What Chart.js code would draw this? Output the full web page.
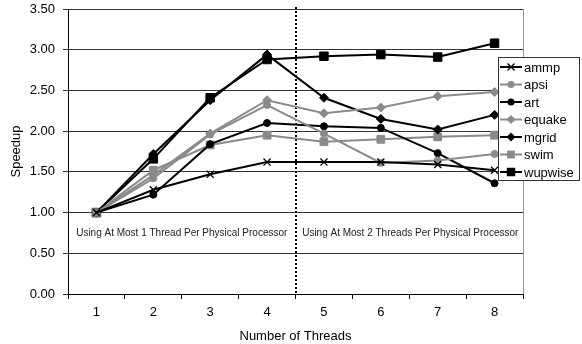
<!DOCTYPE html>
<html>
<head>
<meta charset="utf-8">
<script src="https://cdn.jsdelivr.net/npm/chart.js@4/dist/chart.umd.min.js"></script>
<style>
  html, body { margin: 0; padding: 0; background: #fff; }
  #wrap { width: 582px; height: 344px; }
</style>
</head>
<body>
<div id="wrap"><canvas id="chart" width="582" height="344"></canvas></div>
<script>
// 데이터
const threads = ['1', '2', '3', '4', '5', '6', '7', '8'];
const ammp    = [1.00, 1.28, 1.47, 1.62, 1.62, 1.62, 1.59, 1.52];
const apsi    = [1.00, 1.42, 1.96, 2.32, 1.97, 1.61, 1.64, 1.72];
const art     = [1.00, 1.22, 1.84, 2.10, 2.06, 2.04, 1.73, 1.36];
const equake  = [1.00, 1.46, 1.97, 2.38, 2.22, 2.29, 2.43, 2.48];
const mgrid   = [1.00, 1.72, 2.38, 2.94, 2.41, 2.15, 2.02, 2.20];
const swim    = [1.00, 1.52, 1.83, 1.95, 1.87, 1.90, 1.93, 1.95];
const wupwise = [1.00, 1.66, 2.41, 2.88, 2.92, 2.94, 2.91, 3.08];
const yTicks  = [0, 0.5, 1, 1.5, 2, 2.5, 3, 3.5];
const note1 = 'Using At Most 1 Thread Per Physical Processor';
const note2 = 'Using At Most 2 Threads Per Physical Processor';

const BLACK = '#000000';
const GRAY = '#8a8a8a';
const FONT = 'Arial, "Liberation Sans", sans-serif';

function series(label, data, color, style, radius) {
    return {
        label: label,
        data: data,
        borderColor: color,
        backgroundColor: color,
        borderWidth: 2,
        pointStyle: style,
        pointRadius: radius,
        pointHoverRadius: radius,
        pointBackgroundColor: color,
        pointBorderColor: color,
        pointBorderWidth: style === 'crossRot' ? 1.3 : 1,
        tension: 0,
        fill: false
    };
}

const datasets = [
    series('ammp', ammp, BLACK, 'crossRot', 5),
    series('apsi', apsi, GRAY, 'circle', 3.5),
    series('art', art, BLACK, 'circle', 3.5),
    series('equake', equake, GRAY, 'rectRot', 4.5),
    series('mgrid', mgrid, BLACK, 'rectRot', 4.5),
    series('swim', swim, GRAY, 'rect', 5.5),
    series('wupwise', wupwise, BLACK, 'rect', 6)
];

// 범례용 마커 그리기
function drawMarker(ctx, style, x, y, r, color) {
    ctx.save();
    ctx.fillStyle = color;
    ctx.strokeStyle = color;
    ctx.lineWidth = 1.3;
    ctx.beginPath();
    if (style === 'circle') {
        ctx.arc(x, y, r, 0, Math.PI * 2);
        ctx.fill();
    } else if (style === 'rect') {
        const s = r * Math.SQRT1_2;
        ctx.rect(x - s, y - s, 2 * s, 2 * s);
        ctx.fill();
    } else if (style === 'rectRot') {
        ctx.moveTo(x, y - r);
        ctx.lineTo(x + r, y);
        ctx.lineTo(x, y + r);
        ctx.lineTo(x - r, y);
        ctx.closePath();
        ctx.fill();
    } else if (style === 'crossRot') {
        const d = r * Math.SQRT1_2;
        ctx.moveTo(x - d, y - d);
        ctx.lineTo(x + d, y + d);
        ctx.moveTo(x + d, y - d);
        ctx.lineTo(x - d, y + d);
        ctx.stroke();
    }
    ctx.restore();
}

const extrasPlugin = {
    id: 'extras',
    beforeDatasetsDraw(chart) {
        const ctx = chart.ctx;
        const area = chart.chartArea;
        const xs = chart.scales.x;
        const ys = chart.scales.y;

        // 오른쪽 테두리
        ctx.save();
        ctx.strokeStyle = '#9a9a9a';
        ctx.lineWidth = 1;
        ctx.beginPath();
        ctx.moveTo(Math.round(area.right) + 0.5, area.top);
        ctx.lineTo(Math.round(area.right) + 0.5, area.bottom);
        ctx.stroke();

        // 구분 점선
        const xMid = (xs.getPixelForValue(3) + xs.getPixelForValue(4)) / 2;
        ctx.strokeStyle = '#000';
        ctx.lineWidth = 2;
        ctx.setLineDash([2, 2]);
        ctx.beginPath();
        ctx.moveTo(Math.round(xMid), area.top - 2);
        ctx.lineTo(Math.round(xMid), area.bottom);
        ctx.stroke();
        ctx.setLineDash([]);

        // 설명 텍스트
        ctx.fillStyle = '#222';
        ctx.font = '10px ' + FONT;
        ctx.textAlign = 'center';
        ctx.textBaseline = 'middle';
        const yText = ys.getPixelForValue(0.75);
        const x1 = (xs.getPixelForValue(1) + xs.getPixelForValue(2)) / 2;
        const x2 = (xs.getPixelForValue(5) + xs.getPixelForValue(6)) / 2;
        ctx.fillText(note1, x1, yText);
        ctx.fillText(note2, x2 + 1, yText);
        ctx.restore();
    },
    afterDraw(chart) {
        const ctx = chart.ctx;
        const boxX = 498, boxY = 57, boxW = 81, boxH = 123;
        ctx.save();
        ctx.fillStyle = '#fff';
        ctx.fillRect(boxX, boxY, boxW, boxH);
        ctx.strokeStyle = '#333';
        ctx.lineWidth = 1;
        ctx.strokeRect(boxX + 0.5, boxY + 0.5, boxW, boxH);
        ctx.font = '13px ' + FONT;
        ctx.textBaseline = 'middle';
        ctx.textAlign = 'left';
        chart.data.datasets.forEach((ds, i) => {
            const y = 67 + i * 17.5;
            ctx.strokeStyle = ds.borderColor;
            ctx.lineWidth = 2;
            ctx.beginPath();
            ctx.moveTo(500, y);
            ctx.lineTo(522, y);
            ctx.stroke();
            drawMarker(ctx, ds.pointStyle, 511, y, ds.pointRadius, ds.borderColor);
            ctx.fillStyle = '#000';
            ctx.fillText(ds.label, 524, y + 1);
        });
        ctx.restore();
    }
};

const canvas = document.getElementById('chart');
new Chart(canvas.getContext('2d'), {
    type: 'line',
    data: {
        labels: threads,
        datasets: datasets
    },
    options: {
        responsive: false,
        animation: false,
        layout: {
            padding: { top: 9, right: 59, bottom: 0, left: 0 }
        },
        plugins: {
            legend: { display: false },
            tooltip: { enabled: false }
        },
        scales: {
            x: {
                type: 'category',
                offset: true,
                afterFit: function(scale) {
                    scale.height = 50;
                    scale.paddingLeft = 0;
                    scale.paddingRight = 0;
                },
                grid: {
                    offset: true,
                    drawOnChartArea: false,
                    drawTicks: true,
                    tickLength: 5,
                    color: '#000'
                },
                border: { color: '#000', width: 1 },
                ticks: {
                    color: '#000',
                    padding: 6,
                    maxRotation: 0,
                    font: { family: FONT, size: 13 }
                },
                title: {
                    display: true,
                    text: 'Number of Threads',
                    color: '#000',
                    padding: { top: 0, bottom: 0 },
                    font: { family: FONT, size: 13 }
                }
            },
            y: {
                min: 0,
                max: 3.5,
                afterFit: function(scale) {
                    scale.width = 68;
                    scale.paddingTop = 0;
                    scale.paddingBottom = 0;
                },
                afterBuildTicks: function(scale) {
                    scale.ticks = yTicks.map(v => ({ value: v }));
                },
                grid: {
                    color: '#333',
                    lineWidth: 1,
                    drawTicks: true,
                    tickLength: 5
                },
                border: { color: '#000', width: 1 },
                ticks: {
                    color: '#000',
                    padding: 8,
                    font: { family: FONT, size: 13 },
                    callback: function(value) { return Number(value).toFixed(2); }
                },
                title: {
                    display: true,
                    text: 'Speedup',
                    color: '#000',
                    padding: { top: 9, bottom: 0 },
                    font: { family: FONT, size: 13 }
                }
            }
        }
    },
    plugins: [extrasPlugin]
});
</script>
</body>
</html>
